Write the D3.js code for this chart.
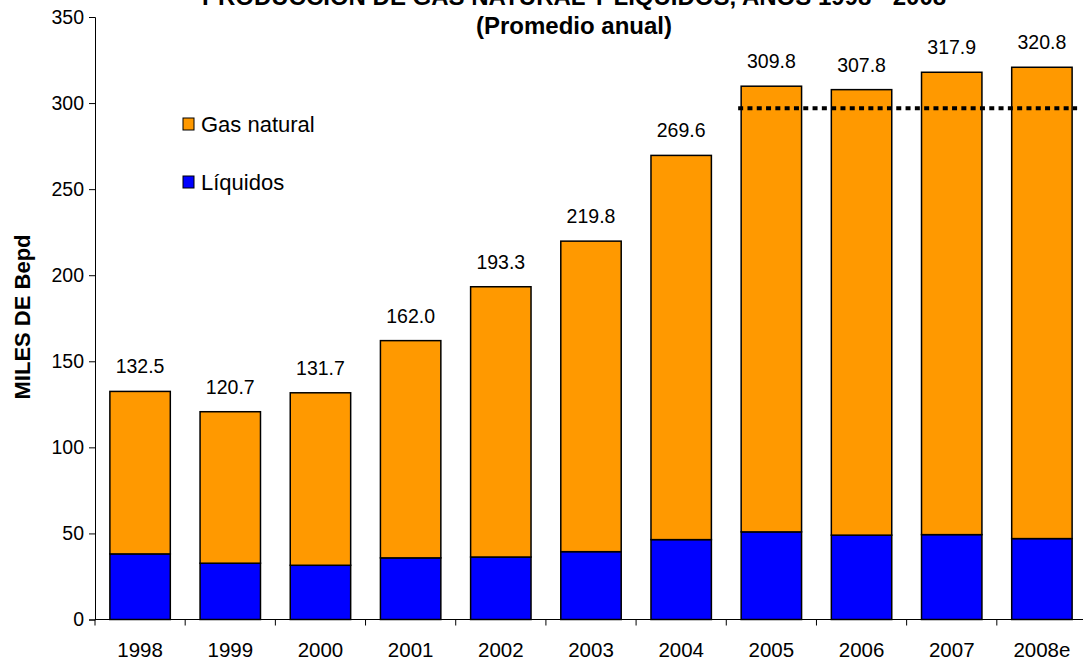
<!DOCTYPE html>
<html>
<head>
<meta charset="utf-8">
<script src="https://cdn.jsdelivr.net/npm/d3@7"></script>
<style>
  html, body { margin: 0; padding: 0; background: #fff; }
  svg { display: block; font-family: Arial, "Liberation Sans", Helvetica, sans-serif; }
</style>
</head>
<body>
<svg id="chart" width="1083" height="663"></svg>
<script>
// Annual average production, thousands of barrels of oil equivalent per day
const years = ["1998", "1999", "2000", "2001", "2002", "2003", "2004", "2005", "2006", "2007", "2008e"];
const totals = [132.5, 120.7, 131.7, 162.0, 193.3, 219.8, 269.6, 309.8, 307.8, 317.9, 320.8];
const liquids = [38.1, 32.7, 31.5, 35.8, 36.3, 39.4, 46.4, 50.9, 49.0, 49.3, 47.0];
const naturalGas = totals.map((t, i) => +(t - liquids[i]).toFixed(1));
const yTicks = [0, 50, 100, 150, 200, 250, 300, 350];
const refLevel = 297;
const refYears = ["2005", "2008e"];

const seriesNames = ["Líquidos", "Gas natural"];
const seriesColors = { "Líquidos": "#0000FF", "Gas natural": "#FF9900" };

const rows = years.map((y, i) => ({ year: y, "Líquidos": liquids[i], "Gas natural": naturalGas[i], total: totals[i] }));

const svg = d3.select("#chart");
const plotLeft = 95, plotRight = 1087, plotTop = 17, plotBottom = 619.5;

const x = d3.scaleBand().domain(years).range([plotLeft, plotRight]).paddingInner(0.33).paddingOuter(0.165);
const y = d3.scaleLinear().domain([0, 350]).range([plotBottom, plotTop]);

const stack = d3.stack().keys(seriesNames);
const layers = stack(rows);

// Stacked bars
svg.append("g").selectAll("g")
  .data(layers)
  .join("g")
  .attr("fill", d => seriesColors[d.key])
  .selectAll("rect")
  .data(d => d)
  .join("rect")
  .attr("x", d => x(d.data.year))
  .attr("y", d => y(d[1]))
  .attr("width", x.bandwidth())
  .attr("height", d => y(d[0]) - y(d[1]))
  .attr("stroke", "#000")
  .attr("stroke-width", 1.5);

// Y axis
const yAxis = svg.append("g")
  .attr("transform", `translate(${plotLeft},0)`)
  .call(d3.axisLeft(y).tickValues(yTicks).tickSize(6).tickPadding(5).tickFormat(d3.format("d")));
yAxis.select(".domain").attr("stroke", "#000");
yAxis.selectAll(".tick line").attr("stroke", "#000");
yAxis.selectAll("text").attr("font-size", 19.5).attr("fill", "#000").attr("font-family", "Arial, 'Liberation Sans', sans-serif");

// X axis: labels centred on bars, ticks on category boundaries
const xAxis = svg.append("g")
  .attr("transform", `translate(0,${plotBottom})`)
  .call(d3.axisBottom(x).tickSize(0).tickPadding(23));
xAxis.select(".domain").attr("stroke", "#000").attr("d", `M${plotLeft},0H${plotRight}`);
xAxis.selectAll("text").attr("font-size", 20.5).attr("fill", "#000").attr("font-family", "Arial, 'Liberation Sans', sans-serif");

const step = x.step();
const boundaries = years.map(d => x(d) - (step - x.bandwidth()) / 2).concat([plotRight]);
svg.append("g").selectAll("line")
  .data(boundaries)
  .join("line")
  .attr("x1", d => d).attr("x2", d => d)
  .attr("y1", plotBottom).attr("y2", plotBottom + 6)
  .attr("stroke", "#000");

// Total labels above bars
svg.append("g").selectAll("text")
  .data(rows)
  .join("text")
  .attr("x", d => x(d.year) + x.bandwidth() / 2)
  .attr("y", d => y(d.total) - 18)
  .attr("text-anchor", "middle")
  .attr("font-size", 19.5)
  .attr("fill", "#000")
  .text(d => d.total.toFixed(1));

// Dotted reference line
svg.append("line")
  .attr("x1", x(refYears[0]) - 3)
  .attr("x2", x(refYears[1]) + x.bandwidth() + 5)
  .attr("y1", y(refLevel)).attr("y2", y(refLevel))
  .attr("stroke", "#000")
  .attr("stroke-width", 4)
  .attr("stroke-dasharray", "5,4.3");

// Legend
const legendItems = [
  { name: "Gas natural", yPos: 118 },
  { name: "Líquidos", yPos: 176 }
];
const lg = svg.append("g");
legendItems.forEach(item => {
  lg.append("rect")
    .attr("x", 183).attr("y", item.yPos)
    .attr("width", 11).attr("height", 12)
    .attr("fill", seriesColors[item.name])
    .attr("stroke", "#000").attr("stroke-width", 1);
  lg.append("text")
    .attr("x", 201).attr("y", item.yPos + 14)
    .attr("font-size", 22)
    .attr("fill", "#000")
    .text(item.name);
});

// Y axis title
svg.append("text")
  .attr("transform", "translate(30,317) rotate(-90)")
  .attr("text-anchor", "middle")
  .attr("font-size", 22)
  .attr("font-weight", "bold")
  .attr("fill", "#000")
  .text("MILES DE Bepd");

// Title
const title = svg.append("text")
  .attr("text-anchor", "middle")
  .attr("font-weight", "bold")
  .attr("font-size", 24)
  .attr("fill", "#000");
title.append("tspan").attr("x", 574).attr("y", 5).text("PRODUCCIÓN DE GAS NATURAL Y LÍQUIDOS, AÑOS 1998 - 2008");
title.append("tspan").attr("x", 574).attr("y", 34).text("(Promedio anual)");
</script>
</body>
</html>
